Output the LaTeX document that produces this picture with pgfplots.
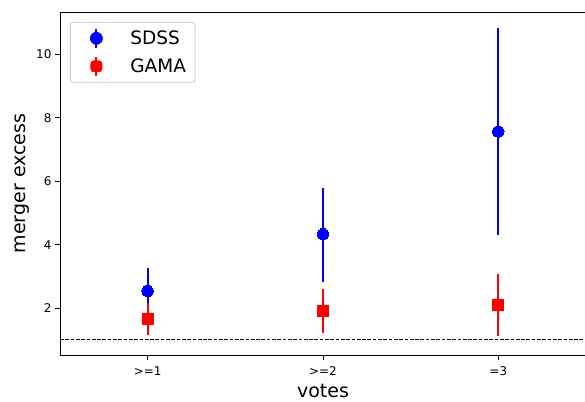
\documentclass[border=0pt]{standalone}
\usepackage{fontspec}
\setmainfont{DejaVu Sans}
\usepackage{pgfplots}
\pgfplotsset{compat=1.18}
\begin{document}
\begin{tikzpicture}
\begin{axis}[
 scale only axis, width=526pt, height=343pt,
 xmin=-0.5, xmax=2.5, ymin=0.52, ymax=11.34,
 xtick={0,1,2}, xticklabels={{>=1},{>=2},{=3}},
 ytick={2,4,6,8,10},
 tick pos=left, tick align=outside, major tick length=5pt,
 tick style={black, line width=0.8pt},
 ticklabel style={font=\fontsize{12}{14}\selectfont},
 xticklabel style={yshift=-3pt},
 /pgf/number format/assume math mode=true,
 xlabel={votes}, ylabel={merger excess},
 label style={font=\fontsize{19}{22}\selectfont},
 xlabel style={yshift=-1.5pt},
 axis line style={line width=0.8pt},
 legend style={at={(0.019,0.971)}, anchor=north west, draw=black!22, line width=0.8pt, rounded corners=3pt,
   font=\fontsize{18.5}{22}\selectfont, row sep=0pt, column sep=10pt, inner xsep=0pt, inner ysep=2pt,
   nodes={inner sep=0pt}},
 legend cell align=left,
]
\coordinate (o) at (rel axis cs:0,0);
\addplot[black, dashed, dash pattern=on 3.7pt off 1.6pt, line width=1pt, forget plot] coordinates {(-0.5,1) (2.5,1)};
% SDSS error bars
\addplot[blue, only marks, mark=none,
  legend image code/.code={\path[draw=none,fill=none] (0pt,-14pt) rectangle (50pt,14pt); \draw[blue,line width=2pt](26pt,-9.5pt)--(26pt,9.5pt); \fill[blue] (26pt,0pt) circle (6pt);},
  error bars/.cd, y dir=both, y explicit, error mark=none, error bar style={line width=2pt, blue}]
 coordinates {
 (0,2.54) += (0,0.71) -= (0,0.69)
 (1,4.33) += (0,1.45) -= (0,1.50)
 (2,7.57) += (0,3.26) -= (0,3.26)
 };
\addlegendentry{SDSS\hspace*{9pt}}
\addplot[blue, only marks, mark=*, mark size=5.7pt, mark options={solid, fill=blue, draw=blue, line width=0pt}, forget plot]
 coordinates {(0,2.54) (1,4.33) (2,7.57)};
% GAMA error bars
\addplot[red, only marks, mark=none,
  legend image code/.code={\path[draw=none,fill=none] (0pt,-14pt) rectangle (50pt,14pt); \draw[red,line width=2pt](26pt,-9.5pt)--(26pt,9.5pt); \fill[red] (20.5pt,-5.5pt) rectangle (31.5pt,5.5pt);},
  error bars/.cd, y dir=both, y explicit, error mark=none, error bar style={line width=2pt, red}]
 coordinates {
 (0,1.64) += (0,0.52) -= (0,0.49)
 (1,1.90) += (0,0.70) -= (0,0.70)
 (2,2.09) += (0,0.97) -= (0,0.97)
 };
\addlegendentry{GAMA\hspace*{9pt}}
\addplot[red, only marks, mark=square*, mark size=5.5pt, mark options={solid, fill=red, draw=red, line width=0pt}, forget plot]
 coordinates {(0,1.64) (1,1.90) (2,2.09)};
\end{axis}
\pgfresetboundingbox
\path[use as bounding box] ([xshift=-60pt,yshift=-46pt]o) rectangle ++(585pt,401pt);
\end{tikzpicture}
\end{document}
